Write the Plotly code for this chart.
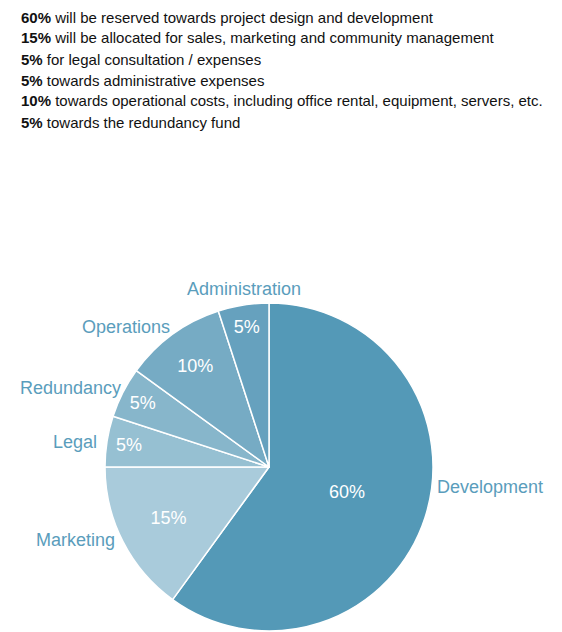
import plotly.graph_objects as go

categories = ["Development", "Marketing", "Legal", "Redundancy", "Operations", "Administration"]
values = [60, 15, 5, 5, 10, 5]
colors = ["#5499b7", "#a9cbdb", "#96c0d2", "#87b6cb", "#76abc4", "#66a1be"]

intro_pct = ["60%", "15%", "5%", "5%", "10%", "5%"]
intro_text = [
    "will be reserved towards project design and development",
    "will be allocated for sales, marketing and community management",
    "for legal consultation / expenses",
    "towards administrative expenses",
    "towards operational costs, including office rental, equipment, servers, etc.",
    "towards the redundancy fund",
]

W, H = 562, 632
cx, cy, r = 269, 467, 164
FONT = "Liberation Sans, Arial, sans-serif"

fig = go.Figure()
fig.add_trace(go.Pie(
    labels=categories,
    values=values,
    sort=False,
    direction="clockwise",
    rotation=0,
    marker=dict(colors=colors, line=dict(color="white", width=1.5)),
    textinfo="percent",
    texttemplate="%{percent:.0%}",
    textposition="inside",
    insidetextorientation="horizontal",
    textfont=dict(color="white", size=18, family=FONT),
    showlegend=False,
    hoverinfo="label+percent",
    domain=dict(x=[(cx - r) / W, (cx + r) / W], y=[(H - cy - r) / H, (H - cy + r) / H]),
))

annotations = []
for i, (p, t) in enumerate(zip(intro_pct, intro_text)):
    annotations.append(dict(
        text=f"<b>{p}</b> {t}", x=19 / W, y=1 - (17 + 21 * i) / H,
        xref="paper", yref="paper", xanchor="left", yanchor="middle",
        align="left", showarrow=False,
        font=dict(size=15, color="#111111", family=FONT),
    ))

# outside category labels (layout text positions)
label_pos = {
    "Development": (435, 487, "left"),
    "Marketing": (117, 540, "right"),
    "Legal": (99, 442, "right"),
    "Redundancy": (123, 388, "right"),
    "Operations": (172, 327, "right"),
    "Administration": (244, 289, "center"),
}
for name in categories:
    x, y, anc = label_pos[name]
    annotations.append(dict(
        text=name, x=x / W, y=1 - y / H, xref="paper", yref="paper",
        xanchor=anc, yanchor="middle", showarrow=False,
        font=dict(size=18, color="#5a9dbc", family=FONT),
    ))

fig.update_layout(
    width=W, height=H,
    margin=dict(l=0, r=0, t=0, b=0),
    paper_bgcolor="white", plot_bgcolor="white",
    annotations=annotations,
)
fig.write_html("out.html")
